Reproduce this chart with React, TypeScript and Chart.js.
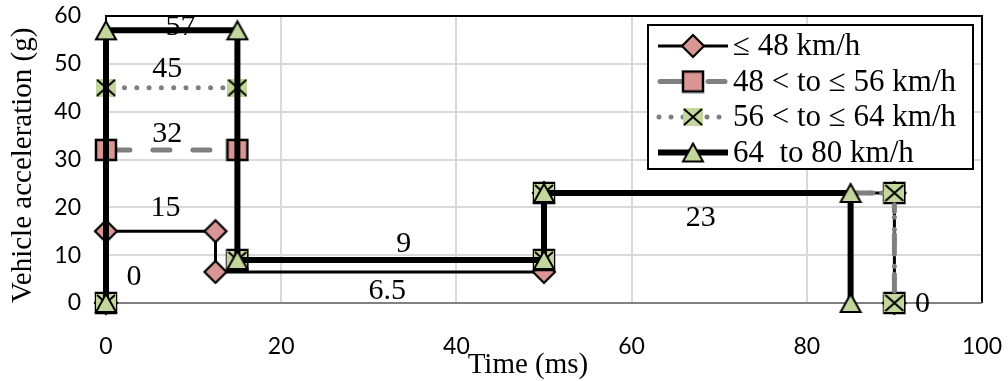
import React, { useEffect, useRef } from 'react';
import { Chart, registerables } from 'chart.js';

Chart.register(...registerables);

const seriesNames = ['≤ 48 km/h', '48 < to ≤ 56 km/h', '56 < to ≤ 64 km/h', '64  to 80 km/h'];

const s1Time = [0, 0, 12.5, 12.5, 50, 50, 90, 90];
const s1Accel = [0, 15, 15, 6.5, 6.5, 23, 23, 0];
const s2Time = [0, 0, 15, 15, 50, 50, 90, 90];
const s2Accel = [0, 32, 32, 9, 9, 23, 23, 0];
const s3Time = [0, 0, 15, 15, 50, 50, 90, 90];
const s3Accel = [0, 45, 45, 9, 9, 23, 23, 0];
const s4Time = [0, 0, 15, 15, 50, 50, 85, 85];
const s4Accel = [0, 57, 57, 9, 9, 23, 23, 0];

const labelTexts = ['57', '45', '32', '15', '0', '9', '6.5', '23', '0'];
const labelTimes = [8.5, 7, 7, 6.8, 3.2, 34, 32.1, 67.9, 93.2];
const labelAccels = [57.8, 49, 35.5, 20, 5.6, 12.6, 2.75, 18, -0.1];

const xTitle = 'Time (ms)';
const yTitle = 'Vehicle acceleration (g)';

const PINK = '#d99694';
const GREEN = '#c3d69b';
const SERIF = '"Liberation Serif", "Times New Roman", serif';

function mk(w: number, h: number, draw: (c: CanvasRenderingContext2D) => void) {
  const cv = document.createElement('canvas');
  cv.width = w;
  cv.height = h;
  const c = cv.getContext('2d')!;
  draw(c);
  return cv;
}

function makeDiamond() {
  return mk(26, 26, (c) => {
    c.beginPath();
    c.moveTo(13, 2);
    c.lineTo(24, 13);
    c.lineTo(13, 24);
    c.lineTo(2, 13);
    c.closePath();
    c.fillStyle = PINK;
    c.fill();
    c.lineWidth = 2.2;
    c.strokeStyle = '#000';
    c.lineJoin = 'miter';
    c.stroke();
  });
}
function makeSquare() {
  return mk(24, 24, (c) => {
    c.fillStyle = PINK;
    c.fillRect(2, 2, 20, 20);
    c.lineWidth = 2.5;
    c.strokeStyle = '#000';
    c.strokeRect(2, 2, 20, 20);
  });
}
function makeXSquare() {
  return mk(20, 18, (c) => {
    c.fillStyle = GREEN;
    c.fillRect(0, 0, 20, 18);
    c.strokeStyle = '#000';
    c.lineWidth = 2;
    c.beginPath();
    c.moveTo(1, 1);
    c.lineTo(19, 17);
    c.moveTo(19, 1);
    c.lineTo(1, 17);
    c.stroke();
  });
}
function makeTriangle() {
  return mk(24, 22, (c) => {
    c.beginPath();
    c.moveTo(12, 2);
    c.lineTo(22, 20);
    c.lineTo(2, 20);
    c.closePath();
    c.fillStyle = GREEN;
    c.fill();
    c.lineWidth = 2;
    c.strokeStyle = '#000';
    c.lineJoin = 'miter';
    c.stroke();
  });
}

export default function App() {
  const ref = useRef<HTMLCanvasElement>(null);
  useEffect(() => {
    document.body.style.margin = '0';
    const canvas = ref.current!;
    const markers = [makeDiamond(), makeSquare(), makeXSquare(), makeTriangle()];
    const styles = [
      { color: '#000', width: 3, dash: [] as number[], cap: 'butt' },
      { color: '#808080', width: 5, dash: [17, 23], cap: 'round' },
      { color: '#7f7f7f', width: 5, dash: [0.001, 12.3], cap: 'round' },
      { color: '#000', width: 6, dash: [] as number[], cap: 'butt' },
    ];
    const times = [s1Time, s2Time, s3Time, s4Time];
    const accels = [s1Accel, s2Accel, s3Accel, s4Accel];

    const datasets = times.map((xs, i) => ({
      label: seriesNames[i],
      data: xs.map((x, j) => ({ x, y: accels[i][j] })),
      borderColor: styles[i].color,
      borderWidth: styles[i].width,
      borderDash: styles[i].dash,
      borderCapStyle: styles[i].cap as CanvasLineCap,
      borderJoinStyle: 'miter' as CanvasLineJoin,
      pointStyle: markers[i],
      pointRadius: 10,
      pointHoverRadius: 10,
      fill: false,
      tension: 0,
      clip: false as any,
      order: 3 - i,
    }));

    const framePlugin = {
      id: 'frame',
      beforeDatasetsDraw(chart: any) {
        const { ctx, chartArea: a } = chart;
        ctx.save();
        ctx.strokeStyle = '#000';
        ctx.lineWidth = 2;
        ctx.beginPath();
        ctx.moveTo(a.left, a.bottom);
        ctx.lineTo(a.left, a.top);
        ctx.lineTo(a.right, a.top);
        ctx.lineTo(a.right, a.bottom);
        ctx.stroke();
        ctx.strokeStyle = '#808080';
        ctx.beginPath();
        ctx.moveTo(a.left, a.bottom);
        ctx.lineTo(a.right, a.bottom);
        ctx.stroke();
        ctx.restore();
      },
    };

    const labelsPlugin = {
      id: 'valueLabels',
      afterDatasetsDraw(chart: any) {
        const { ctx } = chart;
        const xs = chart.scales.x;
        const ys = chart.scales.y;
        ctx.save();
        ctx.fillStyle = '#000';
        ctx.font = `30px ${SERIF}`;
        ctx.textAlign = 'center';
        ctx.textBaseline = 'middle';
        labelTexts.forEach((t, i) => {
          ctx.fillText(t, xs.getPixelForValue(labelTimes[i]), ys.getPixelForValue(labelAccels[i]) + 1);
        });
        ctx.restore();
      },
    };

    const legendPlugin = {
      id: 'customLegend',
      afterDraw(chart: any) {
        const { ctx, chartArea: a } = chart;
        const right = a.right - 9;
        const top = a.top + 9;
        const left = right - 325;
        const h = 144;
        ctx.save();
        // axis titles
        ctx.fillStyle = '#000';
        ctx.font = `29px ${SERIF}`;
        ctx.textAlign = 'center';
        ctx.textBaseline = 'middle';
        ctx.fillText(xTitle, a.left + (a.right - a.left) * 0.4817, 365);
        ctx.save();
        ctx.translate(23, a.top + (a.bottom - a.top) * 0.52);
        ctx.rotate(-Math.PI / 2);
        ctx.fillText(yTitle, 0, 0);
        ctx.restore();

        // legend box
        ctx.fillStyle = '#fff';
        ctx.fillRect(left, top, 325, h);
        ctx.strokeStyle = '#000';
        ctx.lineWidth = 2;
        ctx.strokeRect(left, top, 325, h);
        seriesNames.forEach((name, i) => {
          const y = top + 21 + i * 35.5;
          const st = styles[i];
          ctx.save();
          ctx.strokeStyle = st.color;
          ctx.lineWidth = st.width;
          ctx.setLineDash(i === 1 ? [] : st.dash);
          ctx.lineCap = st.cap as CanvasLineCap;
          ctx.beginPath();
          if (i === 1) {
            ctx.moveTo(left + 12, y);
            ctx.lineTo(left + 34, y);
            ctx.moveTo(left + 60, y);
            ctx.lineTo(left + 77, y);
          } else if (i === 2) {
            ctx.setLineDash([0.001, 12]);
            ctx.moveTo(left + 11, y);
            ctx.lineTo(left + 80, y);
          } else {
            ctx.moveTo(left + 10, y);
            ctx.lineTo(left + 80, y);
          }
          ctx.stroke();
          ctx.restore();
          const m = markers[i];
          ctx.drawImage(m, left + 45 - m.width / 2, y - m.height / 2);
          ctx.fillStyle = '#000';
          ctx.font = `31px ${SERIF}`;
          ctx.textAlign = 'left';
          ctx.textBaseline = 'middle';
          ctx.fillText(name, left + 85, y + 1);
        });
        ctx.restore();
      },
    };

    const tickFont = { family: 'Lato', size: 23 };
    const chart = new Chart(canvas, {
      type: 'line',
      data: { datasets: datasets as any },
      options: {
        responsive: false,
        animation: false,
        events: [],
        devicePixelRatio: 1,
        layout: { padding: { top: 14, right: 26, left: 0, bottom: 0 } },
        plugins: { legend: { display: false }, tooltip: { enabled: false } },
        scales: {
          x: {
            type: 'linear',
            min: 0,
            max: 100,
            ticks: { stepSize: 20, font: tickFont, color: '#000', padding: 30 },
            grid: { color: '#d9d9d9', lineWidth: 2, drawTicks: false },
            border: { display: false },
            afterFit: (s: any) => {
              s.height = 78;
              s.paddingLeft = 0;
              s.paddingRight = 0;
              s.paddingTop = 0;
              s.paddingBottom = 0;
            },
          },
          y: {
            type: 'linear',
            min: 0,
            max: 60,
            ticks: { stepSize: 10, font: tickFont, color: '#000', padding: 25 },
            grid: { color: '#d9d9d9', lineWidth: 2, drawTicks: false },
            border: { display: false },
            afterFit: (s: any) => {
              s.width = 106;
              s.paddingLeft = 0;
              s.paddingRight = 0;
              s.paddingTop = 0;
              s.paddingBottom = 0;
            },
          },
        },
      },
      plugins: [framePlugin, labelsPlugin, legendPlugin],
    });
    return () => chart.destroy();
  }, []);

  return <canvas ref={ref} width={1008} height={381} style={{ display: 'block' }} />;
}
